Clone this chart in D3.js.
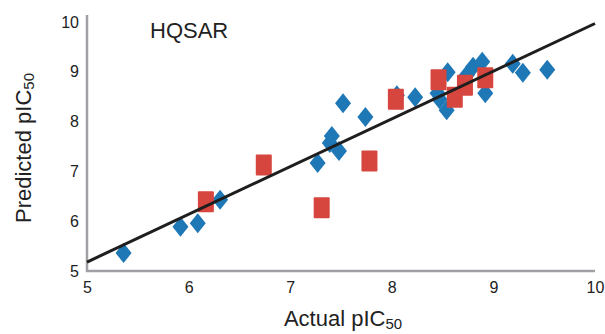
<!DOCTYPE html>
<html><head><meta charset="utf-8">
<script src="https://cdn.jsdelivr.net/npm/d3@7"></script>
<style>body{margin:0;background:#fff}svg{display:block;font-family:"Liberation Sans",Arial,sans-serif}</style>
</head><body><svg id="c" width="605" height="334"></svg>
<script>
const trainX = [5.36,5.92,6.09,6.31,7.27,7.41,7.39,7.48,7.52,7.74,8.05,8.23,8.45,8.47,8.55,8.54,8.74,8.80,8.89,8.92,9.19,9.29,9.53];
const trainY = [5.36,5.89,5.96,6.43,7.17,7.71,7.57,7.41,8.37,8.09,8.53,8.49,8.57,8.45,8.99,8.23,8.94,9.10,9.20,8.57,9.16,8.98,9.04];
const testX = [6.17,6.74,7.31,7.78,8.04,8.46,8.62,8.72,8.92];
const testY = [6.39,7.13,6.27,7.21,8.45,8.84,8.49,8.73,8.88];
const fitX = [5,10];
const fitY = [5.18,9.97];
const xTicks = [5,6,7,8,9,10];
const yTicks = [5,6,7,8,9,10];

const svg = d3.select("#c");
const x = d3.scaleLinear().domain([5,10]).range([87,595]);
const y = d3.scaleLinear().domain([5,10]).range([271,22]);
const axisCol = "#a0a0a4";

svg.append("line").attr("x1",87).attr("x2",87).attr("y1",15).attr("y2",272)
  .attr("stroke",axisCol).attr("stroke-width",2.5);
svg.append("line").attr("x1",86).attr("x2",x(10)).attr("y1",271).attr("y2",271)
  .attr("stroke",axisCol).attr("stroke-width",2.5);

const xa = svg.append("g").attr("transform","translate(0,271)")
  .call(d3.axisBottom(x).tickValues(xTicks).tickSize(0).tickPadding(11).tickFormat(d3.format("d")));
xa.select(".domain").remove();
xa.selectAll("text").attr("font-size",16).attr("fill","#222").attr("font-family","Liberation Sans, Arial, sans-serif");

const ya = svg.append("g").attr("transform","translate(87,0)")
  .call(d3.axisLeft(y).tickValues(yTicks).tickSize(0).tickPadding(8).tickFormat(d3.format("d")));
ya.select(".domain").remove();
ya.selectAll("text").attr("font-size",16).attr("fill","#222").attr("font-family","Liberation Sans, Arial, sans-serif");

const hw = 8, hh = 10;
svg.append("g").selectAll("path").data(trainX.map((d,i)=>[d,trainY[i]])).join("path")
  .attr("d", d => { const cx=x(d[0]), cy=y(d[1]); return `M${cx},${cy-hh}L${cx+hw},${cy}L${cx},${cy+hh}L${cx-hw},${cy}Z`; })
  .attr("fill","#1f78b6");

svg.append("g").selectAll("rect").data(testX.map((d,i)=>[d,testY[i]])).join("rect")
  .attr("x", d => x(d[0])-8).attr("y", d => y(d[1])-10.5).attr("width",16).attr("height",21)
  .attr("fill","#d6463f").attr("rx",1);

svg.append("line").attr("x1",x(fitX[0])).attr("y1",y(fitY[0])).attr("x2",x(fitX[1])).attr("y2",y(fitY[1]))
  .attr("stroke","#1e1e1e").attr("stroke-width",3);

svg.append("text").attr("x",150).attr("y",38).attr("font-size",22).attr("fill","#222").text("HQSAR");

const xt = svg.append("text").attr("x",x(7.52)).attr("y",326).attr("text-anchor","middle")
  .attr("font-size",22).attr("fill","#222");
xt.append("tspan").text("Actual pIC");
xt.append("tspan").attr("font-size",15).attr("dy",3).text("50");

const yt = svg.append("text").attr("transform","translate(31,148) rotate(-90)").attr("text-anchor","middle")
  .attr("font-size",22).attr("fill","#222");
yt.append("tspan").text("Predicted pIC");
yt.append("tspan").attr("font-size",15).attr("dy",3).text("50");
</script></body></html>
